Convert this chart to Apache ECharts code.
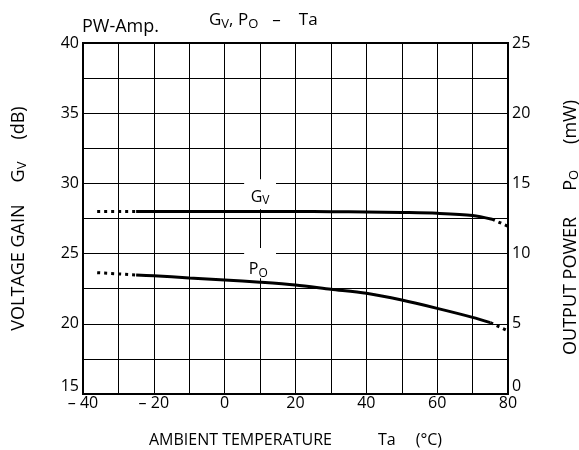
<!DOCTYPE html>
<html>
<head>
<meta charset="utf-8">
<script src="https://cdn.jsdelivr.net/npm/echarts@6/dist/echarts.min.js"></script>
<style>
  html, body { margin: 0; padding: 0; background: #fff; }
  #chart { width: 579px; height: 450px; }
</style>
</head>
<body>
<div id="chart"></div>
<script>
// Ambient temperature axis ticks (°C)
const tempTicks = [-40, -20, 0, 20, 40, 60, 80];
const gainTicks = [15, 20, 25, 30, 35, 40];
const powerTicks = [0, 5, 10, 15, 20, 25];

// Voltage gain Gv (dB) vs temperature
const gvMeasured = [[-25, 28.0], [-10, 28.0], [0, 28.0], [10, 28.0], [20, 28.0], [30, 27.98],
                    [40, 27.97], [50, 27.93], [60, 27.87], [70, 27.72], [75.5, 27.45]];
const gvExtrapLow = [[-36, 28.0], [-25, 28.0]];
const gvExtrapHigh = [[75.5, 27.45], [80, 26.95]];

// Output power Po (mW) vs temperature
const poMeasured = [[-25, 8.48], [-20, 8.42], [-10, 8.27], [0, 8.12], [10, 7.96], [20, 7.76],
                    [30, 7.46], [40, 7.17], [50, 6.69], [60, 6.1], [70, 5.46], [75, 5.08]];
const poExtrapLow = [[-36, 8.64], [-25, 8.48]];
const poExtrapHigh = [[75, 5.08], [80, 4.5]];

const FONT = 'Open Sans';

function richSet(size, subSize, drop, gap, tail) {
  return {
    n: { fontFamily: FONT, fontSize: size, color: '#000' },
    s: { fontFamily: FONT, fontSize: subSize, color: '#000', padding: [drop, 0, 0, 0] },
    g: { fontFamily: FONT, fontSize: size, color: '#000', padding: [0, 0, 0, gap] },
    u: { fontFamily: FONT, fontSize: size, color: '#000', padding: [0, tail, 0, gap] }
  };
}

const chart = echarts.init(document.getElementById('chart'), null, { renderer: 'canvas' });

function solid(data, yi) {
  return { type: 'line', data: data, yAxisIndex: yi, symbol: 'none', smooth: 0.3,
           lineStyle: { color: '#000', width: 3 }, z: 5, silent: true };
}
function dotted(data, yi) {
  return { type: 'line', data: data, yAxisIndex: yi, symbol: 'none',
           lineStyle: { color: '#000', width: 3, type: [3, 4] }, z: 5, silent: true };
}

const axisLineStyle = { show: true, onZero: false, lineStyle: { color: '#000', width: 2 } };

chart.setOption({
  animation: false,
  backgroundColor: '#fff',
  textStyle: { fontFamily: FONT },
  grid: { left: 83, right: 71, top: 43, bottom: 56, show: true, borderColor: '#000', borderWidth: 2,
          containLabel: false, outerBoundsMode: 'none' },
  xAxis: {
    type: 'value', min: -40, max: 80, interval: 10,
    name: '{n|AMBIENT TEMPERATURE}{g2|Ta}{x|(°C)}',
    nameLocation: 'middle', nameGap: 38,
    nameTextStyle: {
      rich: {
        n: { fontFamily: FONT, fontSize: 16, color: '#000' },
        g2: { fontFamily: FONT, fontSize: 16, color: '#000', padding: [0, 0, 0, 46] },
        x: { fontFamily: FONT, fontSize: 16, color: '#000', padding: [0, 0, 0, 20] }
      }
    },
    axisLine: axisLineStyle,
    axisTick: { show: false },
    splitLine: { show: true, lineStyle: { color: '#000', width: 1 } },
    axisLabel: {
      color: '#000', fontFamily: FONT, fontSize: 16, margin: 1,
      formatter: v => tempTicks.includes(v) ? (v < 0 ? '– ' + Math.abs(v) : String(v)) : ''
    }
  },
  yAxis: [
    {
      type: 'value', min: 15, max: 40, interval: 2.5, position: 'left',
      name: '{n|VOLTAGE GAIN}{g|G}{s|V}{u|(dB)}',
      nameLocation: 'middle', nameGap: 54, nameRotate: 90,
      nameTextStyle: { rich: richSet(18, 13, 8, 22, 0) },
      axisLine: axisLineStyle,
      axisTick: { show: false },
      splitLine: { show: true, lineStyle: { color: '#000', width: 1 } },
      axisLabel: {
        color: '#000', fontFamily: FONT, fontSize: 16, margin: 4,
        verticalAlignMinLabel: 'bottom',
        formatter: v => gainTicks.includes(v) ? String(v) : ''
      }
    },
    {
      type: 'value', min: 0, max: 25, interval: 2.5, position: 'right',
      name: '{n|OUTPUT POWER}{g|P}{s|O}{u|(mW)}',
      nameLocation: 'middle', nameGap: 52, nameRotate: 90,
      nameTextStyle: { rich: richSet(18, 13, 8, 26, 18) },
      axisLine: axisLineStyle,
      axisTick: { show: false },
      splitLine: { show: false },
      axisLabel: {
        color: '#000', fontFamily: FONT, fontSize: 16, margin: 4,
        verticalAlignMinLabel: 'bottom',
        formatter: v => powerTicks.includes(v) ? String(v) : ''
      }
    }
  ],
  series: [
    solid(gvMeasured, 0), dotted(gvExtrapLow, 0), dotted(gvExtrapHigh, 0),
    solid(poMeasured, 1), dotted(poExtrapLow, 1), dotted(poExtrapHigh, 1)
  ]
});

// Curve labels on white patches that interrupt the grid
const gvBoxA = chart.convertToPixel({ gridIndex: 0 }, [5.5, 30.3]);
const gvBoxB = chart.convertToPixel({ gridIndex: 0 }, [14.5, 28.15]);
const poBoxA = chart.convertToPixel({ xAxisIndex: 0, yAxisIndex: 1 }, [5.5, 10.4]);
const poBoxB = chart.convertToPixel({ xAxisIndex: 0, yAxisIndex: 1 }, [14.5, 8.25]);
const gvText = chart.convertToPixel({ gridIndex: 0 }, [10, 29.0]);
const poText = chart.convertToPixel({ xAxisIndex: 0, yAxisIndex: 1 }, [9.5, 8.85]);

const labelRich = richSet(16, 12, 7, 0, 0);

chart.setOption({
  graphic: [
    { type: 'rect', z: 1, shape: { x: gvBoxA[0], y: gvBoxA[1], width: gvBoxB[0] - gvBoxA[0], height: gvBoxB[1] - gvBoxA[1] },
      style: { fill: '#fff' }, silent: true },
    { type: 'rect', z: 1, shape: { x: poBoxA[0], y: poBoxA[1], width: poBoxB[0] - poBoxA[0], height: poBoxB[1] - poBoxA[1] },
      style: { fill: '#fff' }, silent: true },
    { type: 'text', z: 2, x: gvText[0], y: gvText[1],
      style: { text: '{n|G}{s|V}', rich: labelRich, align: 'center', verticalAlign: 'middle' } },
    { type: 'text', z: 2, x: poText[0], y: poText[1],
      style: { text: '{n|P}{s|O}', rich: labelRich, align: 'center', verticalAlign: 'middle' } },
    { type: 'text', z: 2, left: 82, top: 18,
      style: { text: 'PW-Amp.', fontFamily: FONT, fontSize: 18, fill: '#000' } },
    { type: 'text', z: 2, left: 209, top: 12,
      style: { text: '{n|G}{s|V}{n|, P}{s|O}{d|–}{t|Ta}',
               rich: { n: { fontFamily: FONT, fontSize: 17, color: '#000' },
                       s: { fontFamily: FONT, fontSize: 13, color: '#000', padding: [8, 0, 0, 0] },
                       d: { fontFamily: FONT, fontSize: 17, color: '#000', padding: [0, 0, 0, 14] },
                       t: { fontFamily: FONT, fontSize: 17, color: '#000', padding: [0, 0, 0, 18] } } } }
  ]
});
</script>
</body>
</html>
